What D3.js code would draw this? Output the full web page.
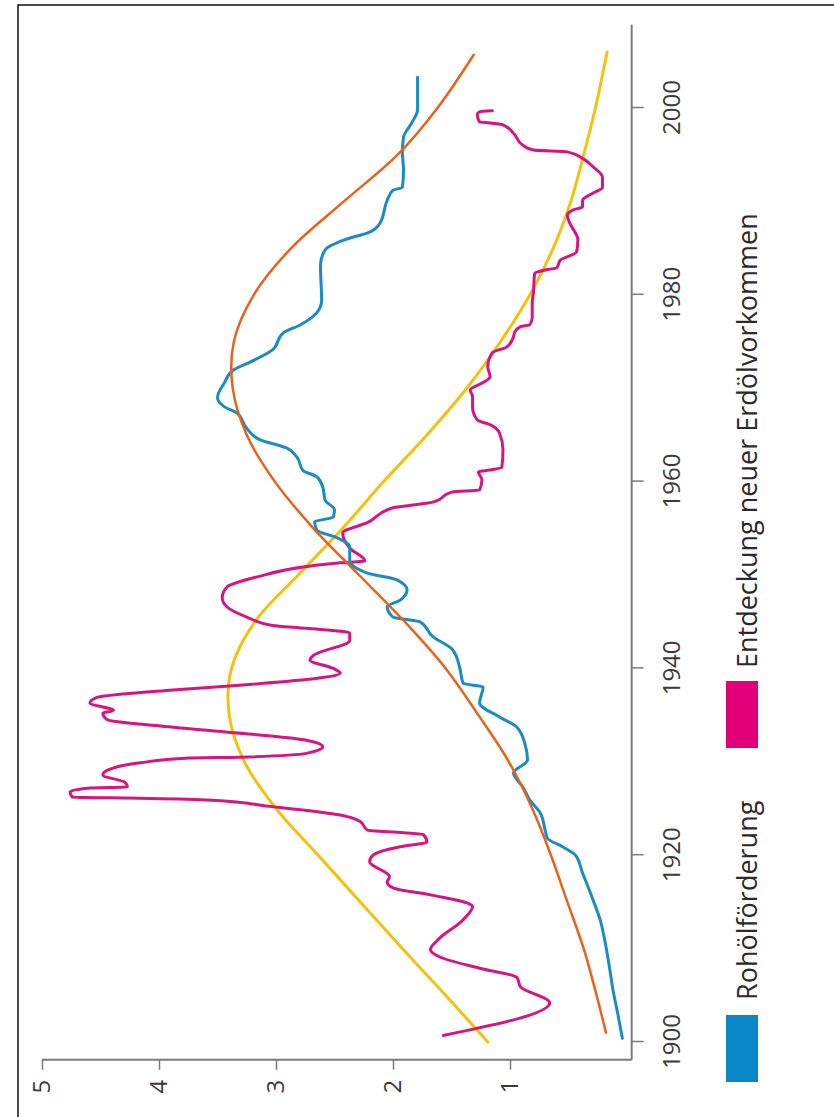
<!DOCTYPE html>
<html>
<head>
<meta charset="utf-8">
<script src="https://cdn.jsdelivr.net/npm/d3@7"></script>
<style>
  html, body { margin: 0; padding: 0; background: #fff; }
  svg { display: block; font-family: "Open Sans", "Noto Sans", sans-serif; }
</style>
</head>
<body>
<script>
// ---------- data (year, value) ----------
const yearTicks = [1900, 1920, 1940, 1960, 1980, 2000];
const valueTicks = [1, 2, 3, 4, 5];
const legendLabels = ["Rohölförderung", "Entdeckung neuer Erdölvorkommen"];

// Rohölförderung (actual production)
const productionActual = [
  [1900.4,0.04],[1903.1,0.08],[1905.6,0.12],[1908.0,0.15],[1910.9,0.19],[1913.1,0.23],
  [1915.2,0.29],[1918.1,0.38],[1920.0,0.44],[1920.9,0.55],[1921.8,0.68],[1922.7,0.70],
  [1924.5,0.74],[1925.9,0.83],[1927.3,0.89],[1928.8,0.97],[1930.2,0.85],[1931.8,0.87],
  [1933.7,0.94],[1934.8,1.09],[1936.3,1.26],[1938.0,1.23],[1938.4,1.40],[1940.1,1.43],
  [1942.0,1.49],[1943.4,1.66],[1945.0,1.77],[1945.5,2.00],[1946.6,2.05],[1947.3,1.94],
  [1948.4,1.88],[1949.5,1.97],[1950.2,2.22],[1951.6,2.37],[1953.0,2.37],[1954.0,2.48],
  [1954.8,2.65],[1955.7,2.67],[1956.2,2.51],[1957.0,2.50],[1958.0,2.58],[1959.4,2.60],
  [1960.5,2.65],[1961.2,2.77],[1962.6,2.82],[1963.6,2.91],[1964.5,3.14],[1965.7,3.25],
  [1967.3,3.33],[1968.0,3.44],[1969.0,3.50],[1970.6,3.44],[1971.9,3.37],[1972.8,3.22],
  [1974.1,3.03],[1975.9,2.94],[1976.8,2.79],[1978.1,2.65],[1979.4,2.61],[1983.2,2.62],
  [1984.8,2.58],[1985.9,2.41],[1986.7,2.20],[1987.7,2.11],[1990.1,2.05],[1991.2,2.00],
  [1991.5,1.92],[1993.4,1.91],[1995.2,1.92],[1996.9,1.91],[1998.4,1.84],[1999.8,1.79],
  [2003.3,1.79]
];

// Förderung trend curve
const productionTrend = [
  [1901,0.18],[1905,0.26],[1910,0.37],[1915,0.51],[1920,0.65],[1925,0.81],[1930,1.01],
  [1935,1.27],[1940,1.55],[1945,1.90],[1950,2.29],[1955,2.68],[1960,3.01],[1965,3.25],
  [1970,3.37],[1975,3.36],[1980,3.19],[1985,2.87],[1990,2.42],[1995,1.96],[2000,1.62],
  [2005.7,1.31]
];

// Entdeckung neuer Erdölvorkommen (actual discoveries)
const discoveryActual = [
  [1900.7,1.57],[1904.2,0.66],[1905.9,0.91],[1906.9,0.94],[1907.9,1.26],[1909.1,1.60],
  [1909.9,1.68],[1910.9,1.62],[1913.1,1.40],[1914.5,1.32],[1914.9,1.37],[1915.7,1.66],
  [1916.5,2.00],[1917.1,2.05],[1917.7,2.03],[1919.3,2.20],[1920.0,2.17],[1920.9,1.94],
  [1921.4,1.71],[1922.2,1.74],[1922.4,1.91],[1922.7,2.22],[1923.6,2.28],[1924.3,2.45],
  [1925.2,3.03],[1925.9,3.59],[1926.1,4.16],[1926.2,4.74],[1926.8,4.76],[1927.2,4.59],
  [1927.3,4.27],[1927.8,4.29],[1928.6,4.48],[1929.1,4.44],[1929.9,4.16],[1930.4,3.74],
  [1930.5,3.31],[1930.9,2.74],[1931.6,2.60],[1932.3,2.74],[1932.9,3.16],[1933.7,3.88],
  [1934.5,4.44],[1935.2,4.48],[1935.5,4.39],[1936.3,4.59],[1936.9,4.53],[1937.7,3.88],
  [1938.2,3.31],[1938.8,2.74],[1939.5,2.45],[1940.0,2.51],[1940.9,2.71],[1941.4,2.68],
  [1943.0,2.37],[1943.8,2.37],[1944.3,2.74],[1944.6,3.03],[1945.5,3.25],[1946.6,3.42],
  [1947.6,3.46],[1948.7,3.42],[1949.8,3.16],[1950.9,2.74],[1951.3,2.45],[1951.5,2.24],
  [1952.9,2.37],[1954.5,2.43],[1955.6,2.22],[1957.2,2.00],[1957.8,1.66],[1958.9,1.49],
  [1959.1,1.26],[1960.2,1.24],[1961.0,1.27],[1961.5,1.07],[1963.4,1.06],[1965.2,1.09],
  [1966.1,1.17],[1966.6,1.28],[1968.0,1.32],[1969.1,1.32],[1969.8,1.34],[1970.6,1.23],
  [1971.2,1.17],[1972.3,1.19],[1973.8,1.15],[1974.4,1.03],[1975.5,0.97],[1976.0,0.96],
  [1976.6,0.91],[1976.8,0.83],[1977.6,0.81],[1979.1,0.81],[1980.2,0.80],[1982.3,0.79],
  [1982.7,0.68],[1982.9,0.60],[1983.7,0.57],[1984.6,0.43],[1985.9,0.42],[1987.7,0.49],
  [1988.5,0.51],[1989.1,0.46],[1989.4,0.38],[1990.1,0.38],[1990.9,0.29],[1991.5,0.21],
  [1992.6,0.21],[1993.7,0.29],[1994.6,0.38],[1995.3,0.51],[1995.5,0.80],[1996.0,0.89],
  [1997.3,0.97],[1998.2,1.06],[1998.4,1.17],[1998.5,1.26],[1999.3,1.28],[1999.6,1.26],
  [1999.7,1.15]
];

// Entdeckung trend curve
const discoveryTrend = [
  [1900,1.19],[1905,1.55],[1910,1.92],[1915,2.28],[1920,2.64],[1925,3.00],[1930,3.27],
  [1935,3.40],[1940,3.38],[1945,3.18],[1950,2.81],[1955,2.43],[1960,2.08],
  [1965,1.71],[1970,1.37],[1975,1.08],[1980,0.83],[1985,0.63],[1990,0.48],[1995,0.37],
  [2000,0.27],[2006,0.17]
];

// ---------- drawing ----------
const W = 834, H = 1117;
const svg = d3.select("body").append("svg").attr("width", W).attr("height", H);

// frame (left and top edges visible)
svg.append("rect").attr("x", 18).attr("y", 5).attr("width", 830).attr("height", 1130)
  .attr("fill", "none").attr("stroke", "#111").attr("stroke-width", 1.5);

// inner chart, rotated -90 degrees
const g = svg.append("g").attr("transform", "translate(42,1042) rotate(-90)");

const x = d3.scaleLinear().domain([1900, 2000]).range([0, 934]);
const y = d3.scaleLinear().domain([0, 5]).range([585, 0]);

const axisColor = "#7a7a7a";
const tickColor = "#3a3a3a";

// year axis
const xAxis = g.append("g").attr("transform", `translate(0,${y(-0.04)})`)
  .call(d3.axisBottom(x).tickValues(yearTicks).tickFormat(d3.format("d")).tickSize(12).tickPadding(19));
xAxis.select(".domain").remove();
xAxis.selectAll(".tick line").attr("stroke", axisColor).attr("stroke-width", 1.5);
xAxis.selectAll(".tick text").attr("fill", tickColor).style("font-size", "24px").style("font-family", "'Open Sans', sans-serif");
xAxis.append("line").attr("x1", x(1898.1)).attr("x2", x(2008.9)).attr("y1", 0).attr("y2", 0)
  .attr("stroke", axisColor).attr("stroke-width", 2);

// value axis
const yAxis = g.append("g").attr("transform", `translate(${x(1898.1)},0)`)
  .call(d3.axisLeft(y).tickValues(valueTicks).tickFormat(d3.format("d")).tickSize(10).tickPadding(10));
yAxis.select(".domain").remove();
yAxis.selectAll(".tick line").attr("stroke", axisColor).attr("stroke-width", 1.5);
yAxis.selectAll(".tick text").attr("fill", tickColor).style("font-size", "24px").style("font-family", "'Open Sans', sans-serif");
yAxis.append("line").attr("x1", 0).attr("x2", 0).attr("y1", y(5)).attr("y2", y(-0.04))
  .attr("stroke", axisColor).attr("stroke-width", 2);

// lines
const smooth = d3.line().x(d => x(d[0])).y(d => y(d[1])).curve(d3.curveCatmullRom.alpha(0.5));
const wiggle = d3.line().x(d => x(d[0])).y(d => y(d[1])).curve(d3.curveMonotoneX);

const colors = {
  production: "#1b8bc6",
  productionTrend: "#e8621a",
  discovery: "#d8157f",
  discoveryTrend: "#f4c20d"
};

g.append("path").datum(discoveryTrend).attr("d", smooth)
  .attr("fill", "none").attr("stroke", colors.discoveryTrend).attr("stroke-width", 3).attr("stroke-linecap", "round");
g.append("path").datum(discoveryActual).attr("d", wiggle)
  .attr("fill", "none").attr("stroke", colors.discovery).attr("stroke-width", 3).attr("stroke-linecap", "round").attr("stroke-linejoin", "round");
g.append("path").datum(productionActual).attr("d", wiggle)
  .attr("fill", "none").attr("stroke", colors.production).attr("stroke-width", 3).attr("stroke-linecap", "round").attr("stroke-linejoin", "round");
g.append("path").datum(productionTrend).attr("d", smooth)
  .attr("fill", "none").attr("stroke", colors.productionTrend).attr("stroke-width", 2.5).attr("stroke-linecap", "round");

// legend
const legend = g.append("g");
const legendItems = [
  { label: legendLabels[0], color: "#0a87c8", rx: -40, tx: 42 },
  { label: legendLabels[1], color: "#e2007a", rx: 294, tx: 374 }
];
legendItems.forEach(it => {
  legend.append("rect").attr("x", it.rx).attr("y", 684).attr("width", 67).attr("height", 32).attr("fill", it.color);
  legend.append("text").attr("x", it.tx).attr("y", 715).text(it.label)
    .attr("fill", "#2a2a2a").style("font-size", "27px").style("font-family", "'Open Sans', sans-serif");
});
</script>
</body>
</html>
